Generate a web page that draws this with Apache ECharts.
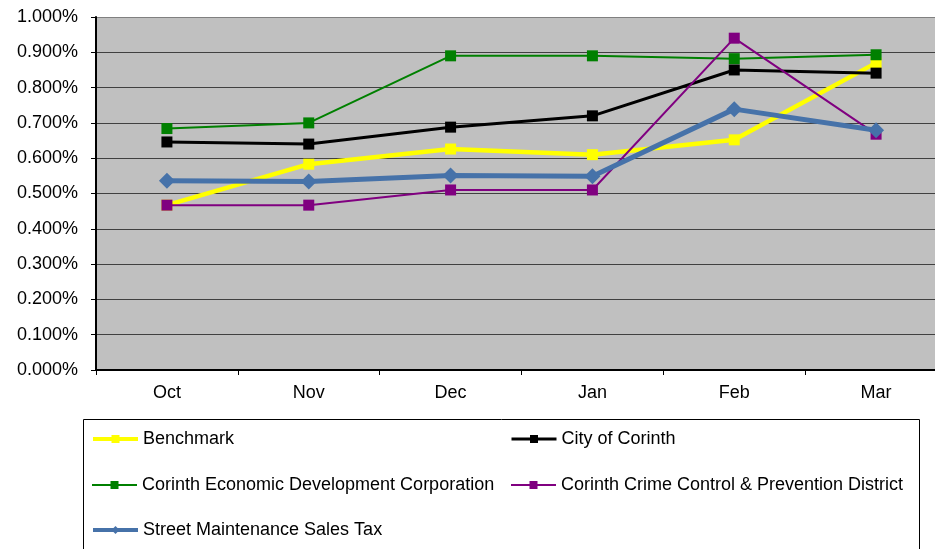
<!DOCTYPE html>
<html lang="en">
<head>
	<meta charset="UTF-8">
	<title>Corinth yields</title>
	<script src="https://cdn.jsdelivr.net/npm/echarts@6/dist/echarts.min.js"></script>
	<style>
		html, body { margin: 0; padding: 0; background: #fff; }
	</style>
</head>
<body>
    <div id="main" style="width: 935px;height:549px;"></div>
    <script type="text/javascript">

    	// months on the x axis
    	var months = ['Oct', 'Nov', 'Dec', 'Jan', 'Feb', 'Mar'];
    	// values in percent
    	var benchmark = [0.467, 0.583, 0.626, 0.610, 0.652, 0.870];
    	var cityOfCorinth = [0.646, 0.640, 0.688, 0.720, 0.850, 0.841];
    	var economicDev = [0.684, 0.700, 0.890, 0.890, 0.882, 0.893];
    	var crimeControl = [0.467, 0.467, 0.510, 0.510, 0.940, 0.668];
    	var streetTax = [0.536, 0.534, 0.551, 0.549, 0.739, 0.679];

    	var font = 'Liberation Sans, Arial, sans-serif';

    	var myChart = echarts.init(document.getElementById('main'));

    	function legendAt(name, left, top, lineW) {
    		return {
    			data: [name],
    			left: left,
    			top: top,
    			padding: 0,
    			itemWidth: 45,
    			itemHeight: 10,
    			selectedMode: false,
    			lineStyle: { width: lineW },
    			textStyle: { fontFamily: font, fontSize: 18, color: '#000' }
    		};
    	}

    	function lineSeries(name, data, color, width, symbol, size, z) {
    		return {
    			name: name,
    			type: 'line',
    			data: data,
    			symbol: symbol,
    			symbolSize: size,
    			z: z,
    			animation: false,
    			lineStyle: { color: color, width: width },
    			itemStyle: { color: color, borderWidth: 0 }
    		};
    	}

		var option = {
			backgroundColor: '#fff',
			legend: [
				legendAt('Benchmark', 91, 430, 4),
				legendAt('City of Corinth', 510, 430, 3),
				legendAt('Corinth Economic Development Corporation', 91, 476, 2),
				legendAt('Corinth Crime Control & Prevention District', 510, 476, 2),
				legendAt('Street Maintenance Sales Tax', 91, 521, 4)
			],
			graphic: [{
				type: 'rect',
				shape: { x: 83.5, y: 419.5, width: 836, height: 140 },
				style: { fill: 'none', stroke: '#000', lineWidth: 1 },
				silent: true
			}],
			grid: {
				left: 96,
				top: 17,
				width: 851,
				height: 353,
				outerBoundsMode: 'none',
				show: true,
				backgroundColor: '#c0c0c0',
				borderWidth: 0
			},
			xAxis: {
				type: 'category',
				data: months,
				boundaryGap: true,
				axisLine: { lineStyle: { color: '#000', width: 2 } },
				axisTick: { show: true, length: 5, lineStyle: { color: '#000' } },
				axisLabel: { fontFamily: font, fontSize: 18, color: '#000', margin: 14 }
			},
			yAxis: {
				type: 'value',
				min: 0,
				max: 1,
				interval: 0.1,
				axisLine: { show: true, lineStyle: { color: '#000', width: 2 } },
				axisTick: { show: true, length: 5, lineStyle: { color: '#000' } },
				axisLabel: {
					fontFamily: font, fontSize: 18, color: '#000', margin: 18,
					formatter: function (v) { return v.toFixed(3) + '%'; }
				},
				splitLine: {
					show: true,
					lineStyle: {
						color: ['#404040', '#404040', '#404040', '#404040', '#404040', '#404040',
							'#404040', '#404040', '#404040', '#404040', '#808080'],
						width: 1
					}
				}
			},
			series: [
				lineSeries('Benchmark', benchmark, '#ffff00', 4.5, 'rect', 11, 2),
				lineSeries('City of Corinth', cityOfCorinth, '#000000', 3, 'rect', 11, 3),
				lineSeries('Corinth Economic Development Corporation', economicDev, '#008000', 2, 'rect', 11, 4),
				lineSeries('Corinth Crime Control & Prevention District', crimeControl, '#800080', 2, 'rect', 11, 5),
				lineSeries('Street Maintenance Sales Tax', streetTax, '#4672a9', 5, 'diamond', 16, 6)
			]
		};
		myChart.setOption(option);
    </script>
</body>
</html>
